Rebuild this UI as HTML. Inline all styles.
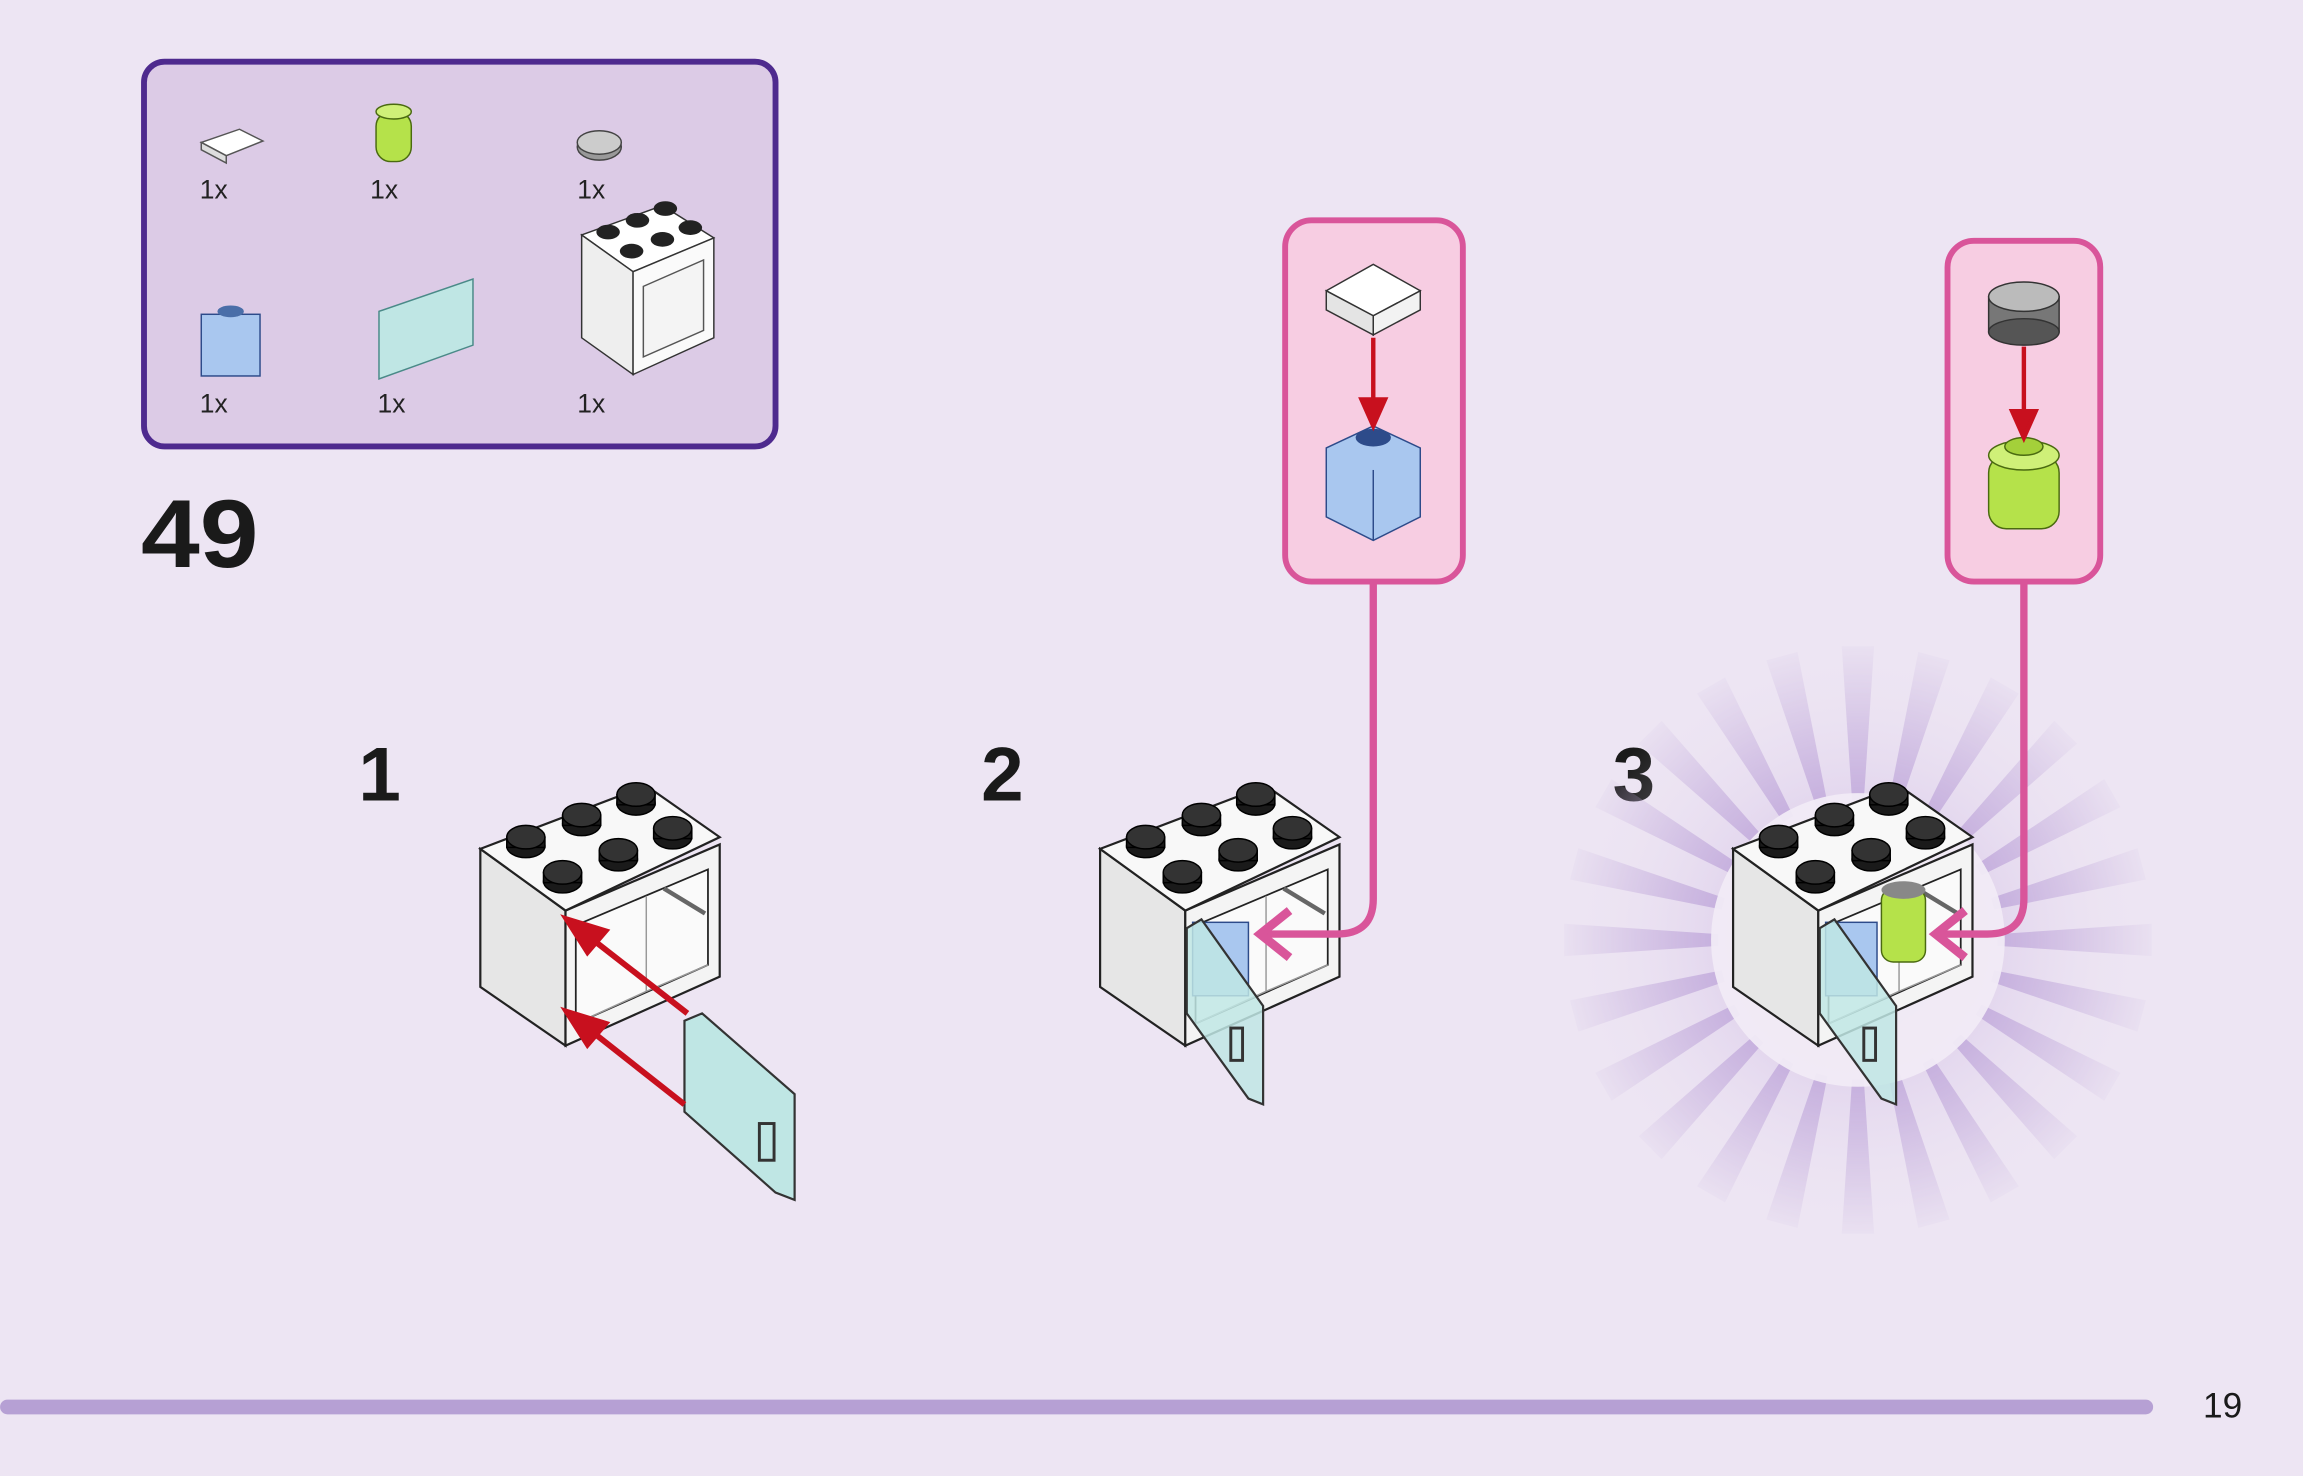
<!DOCTYPE html>
<html><head><meta charset="utf-8"><style>
html,body{margin:0;padding:0;background:#ede5f3;}
svg{display:block}
text{font-family:"Liberation Sans",sans-serif;}
</style></head><body>
<svg width="2303" height="1476" viewBox="0 0 1568 1005" xmlns="http://www.w3.org/2000/svg">
<defs>
<radialGradient id="glow" cx="0.5" cy="0.5" r="0.5">
<stop offset="0.3" stop-color="#d3c0e6" stop-opacity="1"/>
<stop offset="1" stop-color="#ede5f3" stop-opacity="0"/>
</radialGradient>
<radialGradient id="fade" cx="0.5" cy="0.5" r="0.5">
<stop offset="0.4" stop-color="#fff" stop-opacity="1"/>
<stop offset="1" stop-color="#fff" stop-opacity="0"/>
</radialGradient>
<mask id="rm" maskUnits="userSpaceOnUse" x="-220" y="-220" width="440" height="440">
<circle r="210" fill="url(#fade)"/>
</mask>
<g id="cab">
  <polygon points="327,578 385,620 385,712 327,672" fill="#e6e6e6" stroke="#222" stroke-width="1.5"/>
  <polygon points="385,620 490,575 490,665 385,712" fill="#f4f4f4" stroke="#222" stroke-width="1.5"/>
  <polygon points="392,630 482,592 482,657 392,697" fill="#fafafa" stroke="#222" stroke-width="1.2"/>
  <line x1="440" y1="610" x2="440" y2="675" stroke="#999" stroke-width="1"/>
  <line x1="440" y1="675" x2="482" y2="657" stroke="#999" stroke-width="1"/>
  <line x1="392" y1="697" x2="440" y2="675" stroke="#999" stroke-width="1"/>
  <line x1="452" y1="605" x2="480" y2="622" stroke="#666" stroke-width="3"/>
  <polygon points="327,578 440,535 490,570 385,620" fill="#f8f8f8" stroke="#222" stroke-width="1.5"/>
  <g fill="#1a1a1a" stroke="#000">
    <ellipse cx="358" cy="576" rx="13" ry="8"/><rect x="345" y="570" width="26" height="7"/><ellipse cx="358" cy="570" rx="13" ry="8" fill="#333"/>
    <ellipse cx="396" cy="561" rx="13" ry="8"/><rect x="383" y="555" width="26" height="7"/><ellipse cx="396" cy="555" rx="13" ry="8" fill="#333"/>
    <ellipse cx="433" cy="547" rx="13" ry="8"/><rect x="420" y="541" width="26" height="7"/><ellipse cx="433" cy="541" rx="13" ry="8" fill="#333"/>
    <ellipse cx="383" cy="600" rx="13" ry="8"/><rect x="370" y="594" width="26" height="7"/><ellipse cx="383" cy="594" rx="13" ry="8" fill="#333"/>
    <ellipse cx="421" cy="585" rx="13" ry="8"/><rect x="408" y="579" width="26" height="7"/><ellipse cx="421" cy="579" rx="13" ry="8" fill="#333"/>
    <ellipse cx="458" cy="570" rx="13" ry="8"/><rect x="445" y="564" width="26" height="7"/><ellipse cx="458" cy="564" rx="13" ry="8" fill="#333"/>
  </g>
</g>
<polygon id="ray" points="-4,-95 4,-95 11,-200 -11,-200"/>
</defs>
<rect width="1568" height="1005" fill="#ede5f3"/>

<rect x="98" y="42" width="430" height="262" rx="14" fill="#dccbe6" stroke="#4e2a8e" stroke-width="4"/>
<polygon points="137,97 163,88 179,96 154,106" fill="#fff" stroke="#555"/>
<polygon points="137,97 154,106 154,111 137,102" fill="#ddd" stroke="#555"/>
<rect x="256" y="76" width="24" height="34" rx="10" fill="#b5e24a" stroke="#4a6a10"/>
<ellipse cx="268" cy="76" rx="12" ry="5" fill="#cff078" stroke="#4a6a10"/>
<ellipse cx="408" cy="100" rx="15" ry="9" fill="#999" stroke="#444"/>
<ellipse cx="408" cy="97" rx="15" ry="8" fill="#ccc" stroke="#444"/>
<rect x="137" y="214" width="40" height="42" fill="#a9c7ef" stroke="#2d4b8a"/>
<ellipse cx="157" cy="212" rx="9" ry="4" fill="#4a6ea8"/>
<polygon points="258,212 322,190 322,235 258,258" fill="#bfe6e4" stroke="#4a8a88"/>
<g transform="translate(-14,-390)">
<polygon points="410,550 465,530 500,552 445,575" fill="#fff" stroke="#333"/>
<polygon points="410,550 445,575 445,645 410,620" fill="#eee" stroke="#333"/>
<polygon points="445,575 500,552 500,620 445,645" fill="#fafafa" stroke="#333"/>
<polygon points="452,585 493,567 493,615 452,633" fill="#f4f4f4" stroke="#555"/>
<g fill="#222"><ellipse cx="428" cy="548" rx="8" ry="5"/><ellipse cx="448" cy="540" rx="8" ry="5"/><ellipse cx="467" cy="532" rx="8" ry="5"/><ellipse cx="444" cy="561" rx="8" ry="5"/><ellipse cx="465" cy="553" rx="8" ry="5"/><ellipse cx="484" cy="545" rx="8" ry="5"/></g>
</g>
<g font-size="18" fill="#222">
<text x="136" y="135">1x</text><text x="252" y="135">1x</text><text x="393" y="135">1x</text>
<text x="136" y="281">1x</text><text x="257" y="281">1x</text><text x="393" y="281">1x</text>
</g>
<text x="96" y="386" font-size="66" font-weight="bold" fill="#1a1a1a" textLength="80" lengthAdjust="spacingAndGlyphs">49</text>

<text x="244" y="545" font-size="52" font-weight="bold" fill="#1a1a1a">1</text>
<text x="668" y="545" font-size="52" font-weight="bold" fill="#1a1a1a">2</text>
<text x="1098" y="545" font-size="52" font-weight="bold" fill="#1a1a1a">3</text>

<use href="#cab"/>
<polygon points="466,695 478,690 541,745 541,817 528,812 466,757" fill="#bfe6e4" stroke="#333" stroke-width="1.5"/>
<rect x="517" y="765" width="10" height="25" fill="none" stroke="#333" stroke-width="2"/>
<g stroke="#c8101e" stroke-width="4" fill="#c8101e">
<line x1="468" y1="690" x2="400" y2="637"/><polygon points="386,626 412,634 400,648"/>
<line x1="466" y1="752" x2="400" y2="700"/><polygon points="386,689 412,697 400,711"/>
</g>

<use href="#cab" transform="translate(422,0)"/>
<rect x="812" y="628" width="38" height="50" fill="#a9c7ef" stroke="#2d4b8a"/>
<polygon points="808,632 818,626 860,685 860,752 850,748 808,690" fill="#bfe6e4" fill-opacity="0.85" stroke="#333" stroke-width="1.5"/>
<rect x="838" y="700" width="8" height="22" fill="none" stroke="#333" stroke-width="2"/>
<rect x="875" y="150" width="121" height="246" rx="18" fill="#f7cde2" stroke="#d9559a" stroke-width="4"/>
<polygon points="903,198 935,180 967,198 935,215" fill="#fff" stroke="#333"/>
<polygon points="903,198 935,215 935,228 903,211" fill="#e4e4e4" stroke="#333"/>
<polygon points="935,215 967,198 967,211 935,228" fill="#f2f2f2" stroke="#333"/>
<polygon points="903,305 935,290 967,305 967,352 935,368 903,352" fill="#a9c7ef" stroke="#2d4b8a"/>
<ellipse cx="935" cy="298" rx="12" ry="6" fill="#2d4b8a"/>
<line x1="935" y1="320" x2="935" y2="368" stroke="#2d4b8a"/>
<g stroke="#c8101e" stroke-width="3" fill="#c8101e"><line x1="935" y1="230" x2="935" y2="275"/><polygon points="927,272 943,272 935,290"/></g>
<path d="M935,396 V612 Q935,636 910,636 H862" fill="none" stroke="#d9559a" stroke-width="5"/>
<polyline points="878,620 858,636 878,652" fill="none" stroke="#d9559a" stroke-width="6"/>

<g transform="translate(1265,640)">
<circle r="200" fill="url(#glow)" opacity="0.7"/>
<g fill="#c3acdc" mask="url(#rm)">
<use href="#ray" transform="rotate(0)"/><use href="#ray" transform="rotate(15)"/><use href="#ray" transform="rotate(30)"/><use href="#ray" transform="rotate(45)"/>
<use href="#ray" transform="rotate(60)"/><use href="#ray" transform="rotate(75)"/><use href="#ray" transform="rotate(90)"/><use href="#ray" transform="rotate(105)"/>
<use href="#ray" transform="rotate(120)"/><use href="#ray" transform="rotate(135)"/><use href="#ray" transform="rotate(150)"/><use href="#ray" transform="rotate(165)"/>
<use href="#ray" transform="rotate(180)"/><use href="#ray" transform="rotate(195)"/><use href="#ray" transform="rotate(210)"/><use href="#ray" transform="rotate(225)"/>
<use href="#ray" transform="rotate(240)"/><use href="#ray" transform="rotate(255)"/><use href="#ray" transform="rotate(270)"/><use href="#ray" transform="rotate(285)"/>
<use href="#ray" transform="rotate(300)"/><use href="#ray" transform="rotate(315)"/><use href="#ray" transform="rotate(330)"/><use href="#ray" transform="rotate(345)"/>
</g>
<circle r="100" fill="#f1ebf6" opacity="0.95"/>
</g>
<use href="#cab" transform="translate(853,0)"/>
<rect x="1243" y="628" width="35" height="50" fill="#a9c7ef" stroke="#2d4b8a"/>
<rect x="1281" y="605" width="30" height="50" rx="8" fill="#b5e24a" stroke="#4a6a10"/>
<ellipse cx="1296" cy="606" rx="15" ry="6" fill="#888"/>
<polygon points="1239,632 1249,626 1291,685 1291,752 1281,748 1239,690" fill="#bfe6e4" fill-opacity="0.85" stroke="#333" stroke-width="1.5"/>
<rect x="1269" y="700" width="8" height="22" fill="none" stroke="#333" stroke-width="2"/>
<rect x="1326" y="164" width="104" height="232" rx="18" fill="#f7cde2" stroke="#d9559a" stroke-width="4"/>
<rect x="1354" y="202" width="48" height="24" fill="#777" stroke="#333"/>
<ellipse cx="1378" cy="226" rx="24" ry="9" fill="#555" stroke="#333"/>
<ellipse cx="1378" cy="202" rx="24" ry="10" fill="#bbb" stroke="#333"/>
<rect x="1354" y="310" width="48" height="50" rx="12" fill="#b5e24a" stroke="#4a6a10"/>
<ellipse cx="1378" cy="310" rx="24" ry="10" fill="#cff078" stroke="#4a6a10"/>
<ellipse cx="1378" cy="304" rx="13" ry="6" fill="#a4d03a" stroke="#4a6a10"/>
<g stroke="#c8101e" stroke-width="3" fill="#c8101e"><line x1="1378" y1="236" x2="1378" y2="282"/><polygon points="1370,280 1386,280 1378,298"/></g>
<path d="M1378,396 V612 Q1378,636 1353,636 H1322" fill="none" stroke="#d9559a" stroke-width="5"/>
<polyline points="1338,620 1318,636 1338,652" fill="none" stroke="#d9559a" stroke-width="6"/>

<rect x="0" y="953" width="1466" height="10" rx="5" fill="#b6a0d4"/>
<text x="1500" y="965" font-size="24" fill="#1a1a1a">19</text>
</svg>
</body></html>
